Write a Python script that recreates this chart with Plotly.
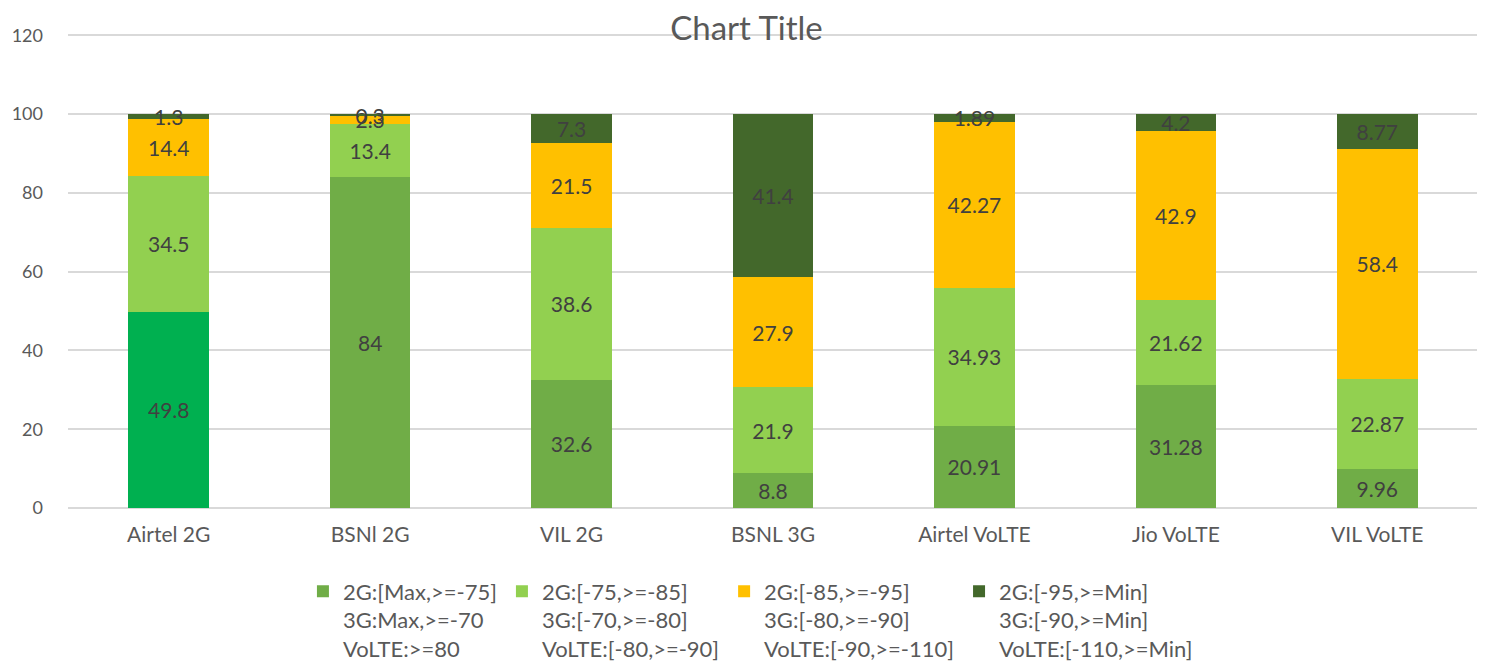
import plotly.graph_objects as go

categories = ["Airtel 2G", "BSNl 2G", "VIL 2G", "BSNL 3G", "Airtel VoLTE", "Jio VoLTE", "VIL VoLTE"]
s1 = [49.8, 84, 32.6, 8.8, 20.91, 31.28, 9.96]
s2 = [34.5, 13.4, 38.6, 21.9, 34.93, 21.62, 22.87]
s3 = [14.4, 2.3, 21.5, 27.9, 42.27, 42.9, 58.4]
s4 = [1.3, 0.3, 7.3, 41.4, 1.89, 4.2, 8.77]
series_names = [
    "2G:[Max,>=-75]<br>3G:Max,>=-70<br>VoLTE:>=80",
    "2G:[-75,>=-85]<br>3G:[-70,>=-80]<br>VoLTE:[-80,>=-90]",
    "2G:[-85,>=-95]<br>3G:[-80,>=-90]<br>VoLTE:[-90,>=-110]",
    "2G:[-95,>=Min]<br>3G:[-90,>=Min]<br>VoLTE:[-110,>=Min]",
]
colors = ["#70AD47", "#92D050", "#FFC000", "#43682B"]
highlight_category = "Airtel 2G"
highlight_color = "#00B050"

FONT = "Lato, Open Sans, sans-serif"
LABEL_FONT = dict(family=FONT, size=21, color="#404040")
fig = go.Figure()

# highlighted bottom segment (Airtel 2G) drawn as its own trace, no legend entry
hi_idx = categories.index(highlight_category)
hi_vals = [v if i == hi_idx else None for i, v in enumerate(s1)]
base_vals = [None if i == hi_idx else v for i, v in enumerate(s1)]
fig.add_trace(go.Bar(
    x=categories, y=hi_vals, showlegend=False, marker=dict(color=highlight_color, line=dict(width=0)),
    text=[str(v) if v is not None else "" for v in hi_vals], textposition="inside",
    insidetextanchor="middle", textangle=0, constraintext="none", textfont=LABEL_FONT,
    hoverinfo="skip",
))

for i, (vals, name, col) in enumerate(zip([base_vals, s2, s3, s4], series_names, colors)):
    fig.add_trace(go.Bar(
        x=categories, y=vals, name=name,
        marker=dict(color=col, line=dict(width=0)),
        text=[str(v) if v is not None else "" for v in vals], textposition="inside",
        insidetextanchor="middle", textangle=0, constraintext="none",
        textfont=LABEL_FONT, cliponaxis=False,
    ))

fig.update_layout(
    barmode="stack", bargap=0.6,
    width=1477, height=654,
    margin=dict(l=60, r=7, t=25, b=154),
    paper_bgcolor="white", plot_bgcolor="white",
    font=dict(family=FONT, color="#595959", size=17),
    title=dict(text="Chart Title", x=0.5, xanchor="center", y=0.969, yanchor="middle",
               font=dict(family=FONT, size=33, color="#595959")),
    uniformtext=dict(minsize=21, mode="show"),
    legend=dict(orientation="h", x=0.484, xanchor="center", yref="container", y=0.14, yanchor="top",
                valign="top", traceorder="normal",
                font=dict(family=FONT, size=22, color="#595959"),
                itemwidth=30, tracegroupgap=0),
    showlegend=True,
)
fig.update_yaxes(range=[0, 120.6], tickvals=[0, 20, 40, 60, 80, 100, 120], showgrid=True,
                 gridcolor="#D9D9D9", gridwidth=1.5, automargin=False,
                 zeroline=True, zerolinecolor="#D9D9D9", zerolinewidth=1.5,
                 showline=False, ticks="", ticklabelstandoff=24,
                 tickfont=dict(family=FONT, size=18, color="#595959"))
fig.update_xaxes(showline=False, ticks="", automargin=False,
                 tickfont=dict(family=FONT, size=21, color="#595959"), ticklabelstandoff=12)

fig.write_html("out.html")
